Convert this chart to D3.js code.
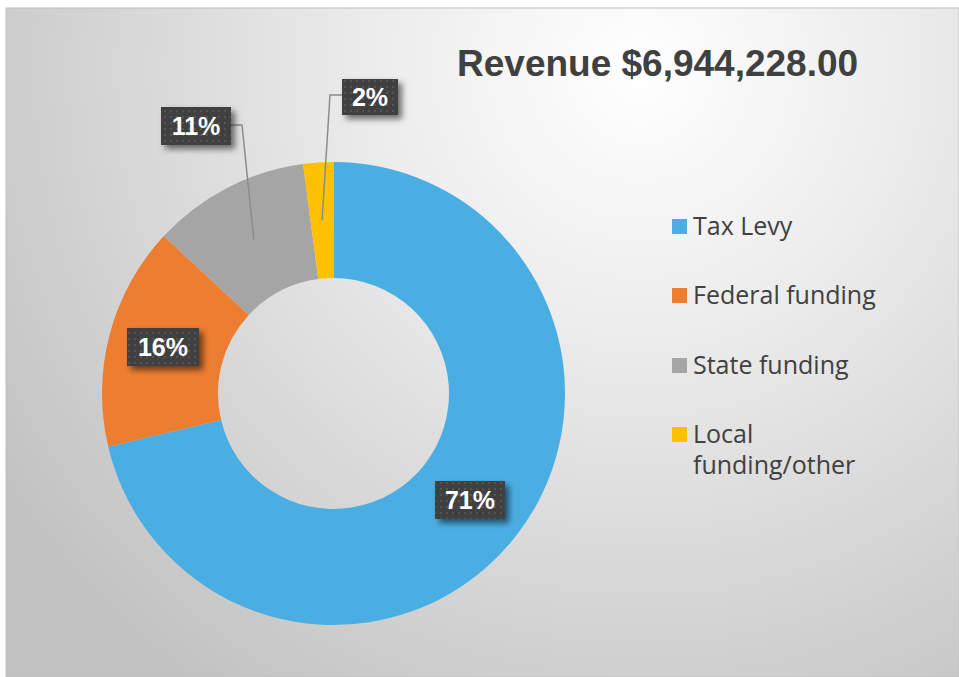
<!DOCTYPE html>
<html><head><meta charset="utf-8">
<script src="https://cdn.jsdelivr.net/npm/d3@7"></script>
<style>html,body{margin:0;padding:0;background:#fff;overflow:hidden}</style>
</head><body>
<svg id="chart" width="959" height="677"></svg>
<script>
const title = "Revenue $6,944,228.00";
const categories = ["Tax Levy", "Federal funding", "State funding", "Local funding/other"];
const shares = [71.3, 15.6, 11.0, 2.1];
const colors = ["#4baee3", "#ed7d31", "#a5a5a5", "#ffc000"];
const legendLines = [["Tax Levy"], ["Federal funding"], ["State funding"], ["Local", "funding/other"]];

const svg = d3.select("#chart");
const defs = svg.append("defs");

const rg = defs.append("radialGradient").attr("id","bg").attr("gradientUnits","userSpaceOnUse")
  .attr("cx",640).attr("cy",70).attr("r",760);
rg.append("stop").attr("offset","0").attr("stop-color","#ffffff");
rg.append("stop").attr("offset","0.35").attr("stop-color","#ececec");
rg.append("stop").attr("offset","1").attr("stop-color","#c2c2c2");

const pat = defs.append("pattern").attr("id","dots").attr("patternUnits","userSpaceOnUse")
  .attr("width",6).attr("height",6);
pat.append("rect").attr("width",6).attr("height",6).attr("fill","#404040");
pat.append("rect").attr("x",2).attr("y",2).attr("width",2).attr("height",2).attr("fill","#555555");

const f = defs.append("filter").attr("id","sh").attr("x","-30%").attr("y","-30%").attr("width","170%").attr("height","180%");
f.append("feDropShadow").attr("dx",4).attr("dy",4).attr("stdDeviation",3).attr("flood-color","#000").attr("flood-opacity",0.55);

svg.append("rect").attr("x",6).attr("y",8).attr("width",953).attr("height",669)
  .attr("fill","url(#bg)").attr("stroke","#bfbfbf").attr("stroke-width",1);

svg.append("text").attr("x",457).attr("y",76).text(title)
  .attr("font-family","Liberation Sans, Arial, sans-serif").attr("font-weight","bold")
  .attr("font-size",37).attr("fill","#404040");

const cx = 333.5, cy = 393.5, R = 231.5, r = 115.5;
const pie = d3.pie().sort(null).value(d => d);
const arcs = pie(shares);
const arc = d3.arc().innerRadius(r).outerRadius(R);
const g = svg.append("g").attr("transform",`translate(${cx},${cy})`);
g.selectAll("path").data(arcs).join("path").attr("d",arc).attr("fill",(d,i)=>colors[i]);

// labels
const total = d3.sum(shares);
const labelPos = [
  {x:470, y:500, w:70, h:38, leader:null},
  {x:163, y:347, w:72, h:38, leader:null},
  {x:196, y:126, w:70, h:38, leader:[[231,125],[242,125]]},
  {x:370, y:97, w:56, h:36, leader:[[342,95],[330,95]]}
];
arcs.forEach((a,i)=>{
  const p = labelPos[i];
  if(p.leader){
    const c = arc.centroid(a);
    const pts = p.leader.concat([[cx + c[0], cy + c[1]]]);
    svg.append("polyline").attr("points",pts.map(q=>q.join(",")).join(" "))
      .attr("fill","none").attr("stroke","#8c8c8c").attr("stroke-width",1.5);
  }
});
arcs.forEach((a,i)=>{
  const p = labelPos[i];
  const lg = svg.append("g");
  lg.append("rect").attr("x",p.x-p.w/2).attr("y",p.y-p.h/2).attr("width",p.w).attr("height",p.h)
    .attr("fill","url(#dots)").attr("filter","url(#sh)");
  lg.append("text").attr("x",p.x).attr("y",p.y+9).attr("text-anchor","middle")
    .attr("font-family","Liberation Sans, Arial, sans-serif").attr("font-weight","bold")
    .attr("font-size",25).attr("fill","#ffffff")
    .text(Math.round(a.data/total*100)+"%");
});

// legend
const ys = [219, 288, 358, 427];
categories.forEach((c,i)=>{
  svg.append("rect").attr("x",672).attr("y",ys[i]).attr("width",15).attr("height",15).attr("fill",colors[i]);
  const t = svg.append("text").attr("x",693).attr("y",ys[i]+16)
    .attr("font-family","Open Sans, sans-serif").attr("font-size",25).attr("fill","#404040");
  legendLines[i].forEach((ln,j)=>{
    t.append("tspan").attr("x",693).attr("dy", j===0?0:31).text(ln);
  });
});
</script>
</body></html>
